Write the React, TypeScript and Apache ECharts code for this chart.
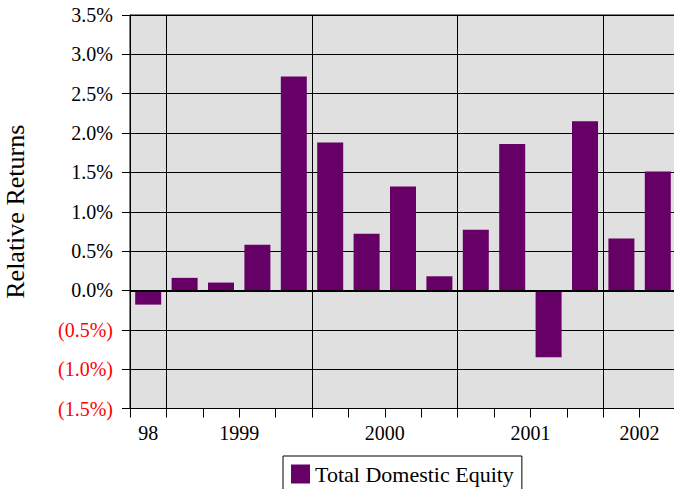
import React, { useEffect, useRef } from "react";
import * as echarts from "echarts";

const quarters = [
  "Q4 1998",
  "Q1 1999", "Q2 1999", "Q3 1999", "Q4 1999",
  "Q1 2000", "Q2 2000", "Q3 2000", "Q4 2000",
  "Q1 2001", "Q2 2001", "Q3 2001", "Q4 2001",
  "Q1 2002", "Q2 2002",
];
const relativeReturns = [
  -0.18,
  0.16, 0.10, 0.58, 2.72,
  1.88, 0.72, 1.32, 0.18,
  0.77, 1.86, -0.85, 2.15,
  0.66, 1.51,
];
const years = ["1998", "1999", "2000", "2001", "2002"];
const yearTickLabels = ["98", "1999", "2000", "2001", "2002"];
const seriesName = "Total Domestic Equity";
const yAxisTitle = "Relative Returns";
const yMin = -1.5;
const yMax = 3.5;
const yStep = 0.5;

const FONT = "'Liberation Serif', 'Times New Roman', serif";

export default function App() {
  const ref = useRef<HTMLDivElement>(null);

  useEffect(() => {
    if (!ref.current) return;
    const chart = echarts.init(ref.current, null, { renderer: "svg" });

    // year label positions: centre of each year's quarters on a 0..N value scale
    const yearCenters = years.map((y) => {
      const idx = quarters
        .map((q, i) => (q.endsWith(y) ? i : -1))
        .filter((i) => i >= 0);
      return (idx[0] + idx[idx.length - 1]) / 2 + 0.5;
    });
    const yearLabelMap: Record<string, string> = {};
    yearCenters.forEach((c, i) => {
      yearLabelMap[String(c)] = yearTickLabels[i];
    });

    chart.setOption({
      animation: false,
      backgroundColor: "#ffffff",
      textStyle: { fontFamily: FONT },
      grid: {
        left: 130,
        right: -2,
        top: 15,
        bottom: 80.5,
        outerBoundsMode: "none",
        containLabel: false,
        show: true,
        backgroundColor: "#E0E0E0",
        borderColor: "#000",
        borderWidth: 1,
      },
      legend: {
        show: true,
        left: 283,
        top: 456,
        data: [seriesName],
        backgroundColor: "#fff",
        borderColor: "#000",
        borderWidth: 1,
        borderRadius: 0,
        padding: [7, 8, 7, 8],
        itemWidth: 19,
        itemHeight: 19,
        itemGap: 10,
        icon: "rect",
        textStyle: { fontFamily: FONT, fontSize: 22, color: "#000" },
      },
      xAxis: [
        {
          type: "category",
          data: quarters,
          boundaryGap: true,
          axisLine: { show: true, onZero: false, lineStyle: { color: "#000", width: 1 } },
          axisTick: {
            show: true,
            interval: 0,
            length: 9,
            inside: false,
            lineStyle: { color: "#000", width: 1 },
          },
          axisLabel: { show: false },
          splitLine: {
            show: true,
            interval: (index: number) => quarters[index] && quarters[index].startsWith("Q1"),
            lineStyle: { color: "#000", width: 1 },
          },
        },
        {
          type: "value",
          min: 0,
          max: quarters.length,
          position: "bottom",
          axisLine: { show: false },
          axisTick: { show: false },
          splitLine: { show: false },
          axisLabel: {
            show: true,
            customValues: yearCenters,
            margin: 14,
            fontFamily: FONT,
            fontSize: 20,
            color: "#000",
            formatter: (v: number) => yearLabelMap[String(v)] ?? "",
          },
        },
      ],
      yAxis: {
        type: "value",
        min: yMin,
        max: yMax,
        interval: yStep,
        name: yAxisTitle,
        nameLocation: "middle",
        nameRotate: 90,
        nameGap: 102,
        nameTextStyle: { fontFamily: FONT, fontSize: 26, color: "#000" },
        axisLine: { show: true, lineStyle: { color: "#000", width: 1 } },
        axisTick: { show: true, length: 8, inside: false, lineStyle: { color: "#000" } },
        axisLabel: {
          margin: 17,
          fontFamily: FONT,
          fontSize: 20,
          color: (v: any) => (parseFloat(v) < 0 ? "#ff0000" : "#000000"),
          formatter: (v: number) =>
            v < 0 ? "(" + Math.abs(v).toFixed(1) + "%)" : v.toFixed(1) + "%",
        },
        splitLine: { show: true, lineStyle: { color: "#000", width: 1 } },
      },
      series: [
        {
          name: seriesName,
          type: "bar",
          xAxisIndex: 0,
          data: relativeReturns,
          barWidth: 26,
          itemStyle: { color: "#660066" },
          markLine: {
            silent: true,
            symbol: "none",
            label: { show: false },
            lineStyle: { color: "#000", width: 2, type: "solid" },
            data: [{ yAxis: 0 }],
          },
        },
      ],
    });

    return () => chart.dispose();
  }, []);

  return (
    <div
      ref={ref}
      style={{ position: "fixed", left: 0, top: 0, width: 674, height: 489 }}
    />
  );
}
